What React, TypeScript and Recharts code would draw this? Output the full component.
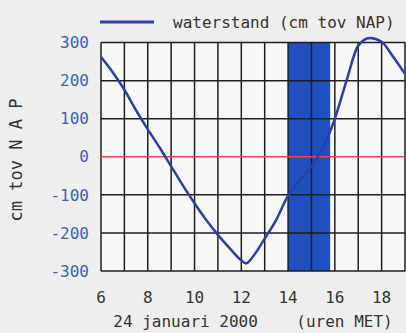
import React from 'react';
import {
  ComposedChart,
  Line,
  XAxis,
  YAxis,
  ReferenceArea,
  ReferenceLine,
  Legend,
} from 'recharts';

// Hours (MET) on 24 januari 2000
const hours = [6, 6.5, 7, 7.5, 8, 8.5, 9, 9.5, 10, 10.5, 11, 11.5, 12, 12.2, 12.5, 13, 13.5, 14, 14.5, 15, 15.5, 16, 16.5, 17, 17.5, 18, 18.5, 19];
// waterstand (cm tov NAP)
const waterstand = [262, 222, 176, 122, 72, 25, -25, -75, -122, -166, -205, -240, -272, -280, -262, -215, -165, -102, -62, -25, 25, 100, 200, 292, 312, 302, 262, 218];

const xTicks = [6, 8, 10, 12, 14, 16, 18];
const hourGrid = [6, 7, 8, 9, 10, 11, 12, 13, 14, 15, 16, 17, 18, 19];
const yTicks = [-300, -200, -100, 0, 100, 200, 300];
const band = [14, 15.8];
const xDomain = [6, 19];
const yDomain = [-300, 300];

const seriesName = 'waterstand (cm tov NAP)';
const yLabel = 'cm tov N A P';
const xLabelDate = '24 januari 2000';
const xLabelUnit = '(uren MET)';

const data = hours.map((h, i) => ({ hour: h, waterstand: waterstand[i] }));

const FONT = '"DejaVu Sans Mono", monospace';
const LINE_BLUE = '#2c3fa4';
const BAND_BLUE = '#1f50bf';
const GRID = '#1e1e1e';

const LegendContent = () => (
  <div style={{ display: 'flex', alignItems: 'center', fontFamily: FONT, fontSize: 16, color: '#333', whiteSpace: 'pre', height: 20 }}>
    <svg width={54} height={6} style={{ marginRight: 19 }}>
      <line x1={0} y1={3} x2={54} y2={3} stroke={LINE_BLUE} strokeWidth={3} />
    </svg>
    <span>{seriesName}</span>
  </div>
);

const XLabel = (props: any) => {
  const vb = props.viewBox || {};
  const cx = vb.x + vb.width / 2;
  const y = vb.y + vb.height - 6;
  return (
    <text x={cx} y={y} textAnchor="middle" fontFamily={FONT} fontSize={16} fill="#333" style={{ whiteSpace: 'pre' }}>
      {xLabelDate + '    ' + xLabelUnit}
    </text>
  );
};

const YLabel = () => {
  const x = 22;
  const y = 160;
  return (
    <text x={x} y={y} textAnchor="middle" fontFamily={FONT} fontSize={17} fill="#333" transform={`rotate(-90 ${x} ${y})`} style={{ whiteSpace: 'pre' }}>
      {yLabel}
    </text>
  );
};

export default function App() {
  return (
    <div style={{ position: 'absolute', left: 0, top: 0, width: 406, height: 333, background: '#eeeeee', overflow: 'hidden' }}>
      <ComposedChart width={406} height={333} data={data} margin={{ top: 18, right: 1, bottom: 0, left: 0 }}>
        <XAxis
          dataKey="hour"
          type="number"
          domain={xDomain}
          ticks={xTicks}
          axisLine={false}
          tickLine={false}
          height={62}
          tickMargin={15}
          tick={{ fill: '#333', fontSize: 16, fontFamily: FONT }}
          label={<XLabel />}
        />
        <YAxis
          type="number"
          domain={yDomain}
          ticks={yTicks}
          axisLine={false}
          tickLine={false}
          width={101}
          tickMargin={6}
          tick={{ fill: '#3a62b8', fontSize: 16, fontFamily: FONT }}
          label={<YLabel />}
        />
        <ReferenceArea x1={xDomain[0]} x2={xDomain[1]} y1={yDomain[0]} y2={yDomain[1]} fill="#f8f8f8" fillOpacity={1} stroke="none" />
        <ReferenceArea x1={band[0]} x2={band[1]} y1={yDomain[0]} y2={yDomain[1]} fill={BAND_BLUE} fillOpacity={1} stroke="none" />
        {hourGrid.map((h) => (
          <ReferenceLine key={'v' + h} segment={[{ x: h, y: yDomain[0] }, { x: h, y: yDomain[1] }]} stroke={GRID} strokeWidth={1.5} />
        ))}
        {yTicks.filter((v) => v !== 0).map((v) => (
          <ReferenceLine key={'h' + v} y={v} stroke={GRID} strokeWidth={1.5} />
        ))}
        <ReferenceLine y={0} stroke="#f0424f" strokeWidth={1.5} />
        <Line
          dataKey="waterstand"
          name={seriesName}
          type="monotone"
          stroke={LINE_BLUE}
          strokeWidth={2.5}
          dot={false}
          activeDot={false}
          isAnimationActive={false}
        />
        <Legend
          verticalAlign="top"
          align="left"
          content={<LegendContent />}
          wrapperStyle={{ position: 'absolute', top: 12, left: 100, width: 306, height: 20 }}
        />
      </ComposedChart>
    </div>
  );
}
